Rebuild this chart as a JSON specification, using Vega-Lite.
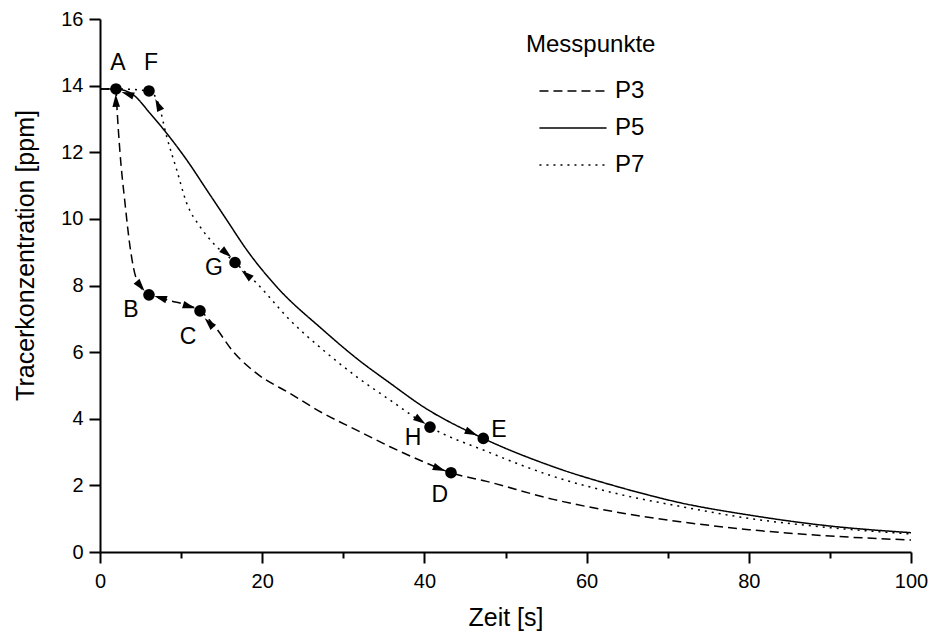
{
  "$schema": "https://vega.github.io/schema/vega-lite/v6.json",
  "width": 811,
  "height": 533,
  "autosize": {"type": "none"},
  "padding": {"left": 100, "top": 19, "right": 20, "bottom": 80},
  "background": "white",
  "config": {"view": {"stroke": null}, "font": "Liberation Sans"},
  "datasets": {
    "curves": [
      {"series": "P3", "t": 0, "c": 13.9},
      {"series": "P3", "t": 1.97, "c": 13.9},
      {"series": "P3", "t": 2.06, "c": 13.48},
      {"series": "P3", "t": 2.47, "c": 11.98},
      {"series": "P3", "t": 3.08, "c": 10.48},
      {"series": "P3", "t": 3.7, "c": 9.17},
      {"series": "P3", "t": 4.53, "c": 8.17},
      {"series": "P3", "t": 6.04, "c": 7.72},
      {"series": "P3", "t": 8.22, "c": 7.57},
      {"series": "P3", "t": 12.33, "c": 7.24},
      {"series": "P3", "t": 14.18, "c": 6.76},
      {"series": "P3", "t": 16.44, "c": 6.01},
      {"series": "P3", "t": 19.32, "c": 5.36},
      {"series": "P3", "t": 23.43, "c": 4.76},
      {"series": "P3", "t": 27.53, "c": 4.16},
      {"series": "P3", "t": 31.65, "c": 3.66},
      {"series": "P3", "t": 35.76, "c": 3.16},
      {"series": "P3", "t": 39.86, "c": 2.71},
      {"series": "P3", "t": 43.28, "c": 2.38},
      {"series": "P3", "t": 47.68, "c": 2.12},
      {"series": "P3", "t": 55.89, "c": 1.58},
      {"series": "P3", "t": 64.12, "c": 1.18},
      {"series": "P3", "t": 71.52, "c": 0.91},
      {"series": "P3", "t": 80.02, "c": 0.67},
      {"series": "P3", "t": 90, "c": 0.48},
      {"series": "P3", "t": 100, "c": 0.36},
      {"series": "P5", "t": 0, "c": 13.9},
      {"series": "P5", "t": 1.97, "c": 13.9},
      {"series": "P5", "t": 4.11, "c": 13.72},
      {"series": "P5", "t": 6.17, "c": 13.17},
      {"series": "P5", "t": 8.22, "c": 12.57},
      {"series": "P5", "t": 10.69, "c": 11.77},
      {"series": "P5", "t": 13.16, "c": 10.87},
      {"series": "P5", "t": 15.62, "c": 9.97},
      {"series": "P5", "t": 18.09, "c": 9.07},
      {"series": "P5", "t": 21.79, "c": 7.96},
      {"series": "P5", "t": 27.53, "c": 6.66},
      {"series": "P5", "t": 31.65, "c": 5.81},
      {"series": "P5", "t": 35.76, "c": 5.07},
      {"series": "P5", "t": 39.86, "c": 4.36},
      {"series": "P5", "t": 47.26, "c": 3.41},
      {"series": "P5", "t": 55.89, "c": 2.56},
      {"series": "P5", "t": 64.12, "c": 1.94},
      {"series": "P5", "t": 71.52, "c": 1.48},
      {"series": "P5", "t": 80.02, "c": 1.11},
      {"series": "P5", "t": 90, "c": 0.78},
      {"series": "P5", "t": 100, "c": 0.58},
      {"series": "P7", "t": 0, "c": 13.9},
      {"series": "P7", "t": 1.97, "c": 13.9},
      {"series": "P7", "t": 6.04, "c": 13.84},
      {"series": "P7", "t": 7.19, "c": 13.47},
      {"series": "P7", "t": 8.22, "c": 12.47},
      {"series": "P7", "t": 9.46, "c": 11.47},
      {"series": "P7", "t": 10.69, "c": 10.47},
      {"series": "P7", "t": 12.33, "c": 9.77},
      {"series": "P7", "t": 13.97, "c": 9.27},
      {"series": "P7", "t": 16.65, "c": 8.69},
      {"series": "P7", "t": 19.32, "c": 8.07},
      {"series": "P7", "t": 23.43, "c": 6.96},
      {"series": "P7", "t": 27.53, "c": 6.06},
      {"series": "P7", "t": 31.65, "c": 5.26},
      {"series": "P7", "t": 35.76, "c": 4.56},
      {"series": "P7", "t": 40.69, "c": 3.75},
      {"series": "P7", "t": 47.68, "c": 3.02},
      {"series": "P7", "t": 55.89, "c": 2.27},
      {"series": "P7", "t": 64.12, "c": 1.73},
      {"series": "P7", "t": 71.52, "c": 1.37},
      {"series": "P7", "t": 80.02, "c": 1.01},
      {"series": "P7", "t": 90, "c": 0.73},
      {"series": "P7", "t": 100, "c": 0.54}
    ],
    "points": [
      {"name": "A", "t": 1.97, "c": 13.9, "lt": 2.2, "lc": 14.68},
      {"name": "F", "t": 6.04, "c": 13.84, "lt": 6.3, "lc": 14.68},
      {"name": "B", "t": 6.04, "c": 7.72, "lt": 3.8, "lc": 7.27},
      {"name": "C", "t": 12.33, "c": 7.24, "lt": 10.85, "lc": 6.45},
      {"name": "G", "t": 16.65, "c": 8.69, "lt": 14.06, "lc": 8.53},
      {"name": "H", "t": 40.69, "c": 3.75, "lt": 38.6, "lc": 3.42},
      {"name": "E", "t": 47.26, "c": 3.41, "lt": 49.2, "lc": 3.66},
      {"name": "D", "t": 43.28, "c": 2.38, "lt": 41.9, "lc": 1.71}
    ],
    "arrows": [
      {"t": 1.97, "c": 13.55, "dir": 358},
      {"t": 3.4, "c": 13.75, "dir": 289},
      {"t": 7.15, "c": 13.43, "dir": 335},
      {"t": 5.0, "c": 7.98, "dir": 141},
      {"t": 7.45, "c": 7.63, "dir": 287},
      {"t": 11.0, "c": 7.37, "dir": 107},
      {"t": 13.44, "c": 6.88, "dir": 317},
      {"t": 15.6, "c": 8.97, "dir": 130},
      {"t": 18.05, "c": 8.33, "dir": 310},
      {"t": 39.5, "c": 3.95, "dir": 124},
      {"t": 45.8, "c": 3.58, "dir": 113},
      {"t": 41.85, "c": 2.5, "dir": 111}
    ]
  },
  "layer": [
    {
      "data": {"name": "curves"},
      "mark": {"type": "line", "interpolate": "monotone", "strokeWidth": 1.5, "color": "black", "strokeCap": "butt"},
      "encoding": {
        "x": {
          "field": "t", "type": "quantitative",
          "scale": {"domain": [0, 100], "nice": false, "zero": false},
          "axis": {
            "title": "Zeit [s]",
            "values": [0, 10, 20, 30, 40, 50, 60, 70, 80, 90, 100],
            "labelExpr": "datum.value % 20 === 0 ? datum.label : ''",
            "tickSize": {"condition": {"test": "datum.value % 20 === 0", "value": 11}, "value": 6},
            "grid": false,
            "domainColor": "black", "domainWidth": 2,
            "tickColor": "black", "tickWidth": 2,
            "labelFontSize": 20, "labelColor": "black", "labelPadding": 8, "labelFlush": false,
            "titleFontSize": 25, "titleFontWeight": "normal", "titleColor": "black",
            "titleY": 73, "titleBaseline": "alphabetic"
          }
        },
        "y": {
          "field": "c", "type": "quantitative",
          "scale": {"domain": [0, 16], "nice": false},
          "axis": {
            "title": "Tracerkonzentration [ppm]",
            "values": [0, 1, 2, 3, 4, 5, 6, 7, 8, 9, 10, 11, 12, 13, 14, 15, 16],
            "labelExpr": "datum.value % 2 === 0 ? datum.label : ''",
            "tickSize": {"condition": {"test": "datum.value % 2 === 0", "value": 11}, "value": 6},
            "grid": false,
            "domainColor": "black", "domainWidth": 2,
            "tickColor": "black", "tickWidth": 2,
            "labelFontSize": 20, "labelColor": "black", "labelPadding": 6, "labelFlush": false,
            "titleFontSize": 25, "titleFontWeight": "normal", "titleColor": "black",
            "titleX": -67, "titleY": 236, "titleBaseline": "alphabetic", "titleAlign": "center"
          }
        },
        "strokeDash": {
          "field": "series", "type": "nominal",
          "scale": {"domain": ["P3", "P5", "P7"], "range": [[9, 5], [1, 0], [2, 5]]},
          "legend": {
            "orient": "none", "legendX": 426, "legendY": 14,
            "title": "Messpunkte",
            "titleFontSize": 24, "titleFontWeight": "normal", "titleColor": "black", "titlePadding": 22,
            "labelFontSize": 24, "labelColor": "black",
            "symbolType": "M-3,0L3,0", "symbolSize": 500,
            "symbolStrokeColor": "black", "symbolStrokeWidth": 1.5,
            "symbolOffset": 35, "labelOffset": 30, "rowPadding": 13
          }
        }
      }
    },
    {
      "data": {"name": "arrows"},
      "mark": {"type": "point", "shape": "M0,-1L0.6,1L-0.6,1Z", "filled": true, "color": "black", "opacity": 1, "size": 160},
      "encoding": {
        "x": {"field": "t", "type": "quantitative"},
        "y": {"field": "c", "type": "quantitative"},
        "angle": {"field": "dir", "type": "quantitative", "scale": null}
      }
    },
    {
      "data": {"name": "points"},
      "mark": {"type": "circle", "color": "black", "opacity": 1, "size": 135},
      "encoding": {
        "x": {"field": "t", "type": "quantitative"},
        "y": {"field": "c", "type": "quantitative"}
      }
    },
    {
      "data": {"name": "points"},
      "mark": {"type": "text", "fontSize": 23, "color": "black", "baseline": "middle", "align": "center"},
      "encoding": {
        "x": {"field": "lt", "type": "quantitative"},
        "y": {"field": "lc", "type": "quantitative"},
        "text": {"field": "name", "type": "nominal"}
      }
    }
  ]
}
